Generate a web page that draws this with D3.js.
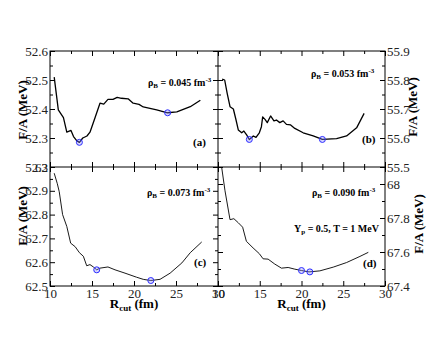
<!DOCTYPE html>
<html lang="en">
<head>
  <meta charset="UTF-8">
  <title>F/A vs Rcut</title>
  <script src="https://d3js.org/d3.v7.min.js"></script>
  <style>
    body { margin: 0; background: #fff; }
    text { font-family: "Liberation Serif", "DejaVu Serif", serif; }
  </style>
</head>
<body>
  <script>
    var svgWidth = 436;
    var svgHeight = 337;

    // panel (a) rho_B = 0.045
    var rcutA = [10.5, 10.99, 11.6, 12.0, 12.5, 12.8, 13.2, 13.5, 13.9, 14.4, 14.76, 15.36, 15.95, 16.4, 16.9, 17.5, 18.0, 18.5, 19.3, 19.9, 20.6, 21.1, 22.7, 24.0, 25.1, 26.7, 27.9];
    var faA   = [52.51, 52.397, 52.37, 52.32, 52.326, 52.305, 52.29, 52.285, 52.30, 52.307, 52.32, 52.37, 52.42, 52.417, 52.433, 52.433, 52.44, 52.437, 52.435, 52.42, 52.416, 52.407, 52.397, 52.387, 52.39, 52.408, 52.43];
    var minRA = [13.5, 24.0];
    var minFA = [52.285, 52.387];

    // panel (b) rho_B = 0.053
    var rcutB = [10.5, 10.8, 11.1, 11.44, 11.84, 12.16, 12.43, 12.84, 13.1, 13.45, 13.75, 14.23, 14.55, 14.95, 15.2, 15.35, 15.63, 15.9, 16.3, 16.7, 17.0, 17.4, 17.8, 18.2, 18.7, 19.2, 20.2, 21.4, 22.5, 24.2, 25.4, 26.6, 27.5];
    var faB   = [55.803, 55.8, 55.754, 55.708, 55.70, 55.662, 55.628, 55.618, 55.624, 55.61, 55.595, 55.607, 55.602, 55.618, 55.639, 55.673, 55.664, 55.653, 55.676, 55.659, 55.662, 55.653, 55.659, 55.647, 55.645, 55.633, 55.618, 55.607, 55.595, 55.598, 55.607, 55.635, 55.685];
    var minRB = [13.75, 22.5];
    var minFB = [55.595, 55.595];

    // panel (c) rho_B = 0.073
    var rcutC = [10.5, 10.87, 11.1, 11.5, 12.0, 12.46, 13.0, 13.5, 13.97, 14.37, 14.76, 15.16, 15.56, 15.95, 16.9, 17.74, 18.93, 20.3, 21.1, 22.0, 23.1, 24.3, 25.7, 26.7, 28.06];
    var faC   = [62.974, 62.93, 62.896, 62.80, 62.75, 62.68, 62.665, 62.64, 62.625, 62.585, 62.59, 62.58, 62.568, 62.575, 62.58, 62.568, 62.554, 62.537, 62.528, 62.523, 62.528, 62.554, 62.597, 62.64, 62.685];
    var minRC = [15.56, 22.0];
    var minFC = [62.568, 62.523];

    // panel (d) rho_B = 0.090
    var rcutD = [10.44, 10.84, 11.44, 11.9, 12.43, 12.95, 13.4, 14.2, 14.95, 15.4, 16.0, 16.8, 17.6, 18.4, 19.2, 20.0, 20.9, 22.2, 23.8, 25.4, 27.0, 28.0];
    var faD   = [68.098, 67.96, 67.79, 67.796, 67.772, 67.746, 67.663, 67.624, 67.59, 67.56, 67.558, 67.529, 67.505, 67.509, 67.499, 67.491, 67.483, 67.489, 67.511, 67.538, 67.574, 67.598];
    var minRD = [20.0, 21.0];
    var minFD = [67.491, 67.483];

    // ticks
    var xMajor = [10, 15, 20, 25, 30];
    var xMinor = [12.5, 17.5, 22.5, 27.5];
    var yLabelsA = [52.2, 52.3, 52.4, 52.5, 52.6];
    var yLabelsB = [55.5, 55.6, 55.7, 55.8, 55.9];
    var yLabelsC = [62.5, 62.6, 62.7, 62.8, 62.9, 63];
    var yLabelsD = [67.4, 67.6, 67.8, 68];
    var yMinorA = [52.25, 52.35, 52.45, 52.55];
    var yMinorB = [55.55, 55.65, 55.75, 55.85];
    var yMinorC = [62.55, 62.65, 62.75, 62.85, 62.95];
    var yMinorD = [67.5, 67.7, 67.9, 68.1];

    var svg = d3.select("body")
                .append("svg")
                .attr("width", svgWidth)
                .attr("height", svgHeight);

    var xLeft = 50, xMid = 218, xRight = 385;
    var yTop = 51, yMid = 167, yBottom = 286;

    var panels = [
      { r: rcutA, f: faA, mr: minRA, mf: minFA, x0: xLeft, x1: xMid, y0: yTop, y1: yMid,
        yDom: [52.2, 52.6], yLab: yLabelsA, yMin: yMinorA, side: "left", xLab: false, lw: 1.3,
        rho: "0.045", rx: 148, ry: 86, tag: "(a)", tx: 193, ty: 146, titleY: 110, titleX: 27 },
      { r: rcutB, f: faB, mr: minRB, mf: minFB, x0: xMid, x1: xRight, y0: yTop, y1: yMid,
        yDom: [55.5, 55.9], yLab: yLabelsB, yMin: yMinorB, side: "right", xLab: false, lw: 1.3,
        rho: "0.053", rx: 311, ry: 77, tag: "(b)", tx: 362, ty: 143, titleY: 107, titleX: 417 },
      { r: rcutC, f: faC, mr: minRC, mf: minFC, x0: xLeft, x1: xMid, y0: yMid, y1: yBottom,
        yDom: [62.5, 63.0], yLab: yLabelsC, yMin: yMinorC, side: "left", xLab: true, lw: 0.9,
        rho: "0.073", rx: 147, ry: 196, tag: "(c)", tx: 194, ty: 266, titleY: 216, titleX: 27 },
      { r: rcutD, f: faD, mr: minRD, mf: minFD, x0: xMid, x1: xRight, y0: yMid, y1: yBottom,
        yDom: [67.4, 68.1], yLab: yLabelsD, yMin: yMinorD, side: "right", xLab: true, lw: 0.9,
        rho: "0.090", rx: 312, ry: 196, tag: "(d)", tx: 363, ty: 267, titleY: 224, titleX: 423 }
    ];

    function styleAxis(g, size) {
      g.select(".domain").remove();
      g.selectAll("line").attr("stroke", "#000");
      g.selectAll("text").attr("font-size", size).attr("fill", "#222")
       .style("font-family", "'Liberation Serif', serif");
    }

    panels.forEach(function(p) {
      var x = d3.scaleLinear().domain([10, 30]).range([p.x0, p.x1]);
      var y = d3.scaleLinear().domain(p.yDom).range([p.y1, p.y0]);

      // x ticks, bottom and top, pointing inward
      svg.append("g").attr("transform", "translate(0," + p.y1 + ")")
         .call(d3.axisBottom(x).tickValues(xMajor).tickSize(-5).tickPadding(3)
               .tickFormat(p.xLab ? d3.format("d") : ""))
         .call(styleAxis, 13);
      svg.append("g").attr("transform", "translate(0," + p.y1 + ")")
         .call(d3.axisBottom(x).tickValues(xMinor).tickSize(-3).tickFormat(""))
         .call(styleAxis, 13);
      svg.append("g").attr("transform", "translate(0," + p.y0 + ")")
         .call(d3.axisTop(x).tickValues(xMajor).tickSize(-5).tickFormat(""))
         .call(styleAxis, 13);
      svg.append("g").attr("transform", "translate(0," + p.y0 + ")")
         .call(d3.axisTop(x).tickValues(xMinor).tickSize(-3).tickFormat(""))
         .call(styleAxis, 13);

      // y ticks both sides, labels on the outer side
      var outer = p.side === "left" ? d3.axisLeft : d3.axisRight;
      var inner = p.side === "left" ? d3.axisRight : d3.axisLeft;
      var xo = p.side === "left" ? p.x0 : p.x1;
      var xi = p.side === "left" ? p.x1 : p.x0;
      svg.append("g").attr("transform", "translate(" + xo + ",0)")
         .call(outer(y).tickValues(p.yLab).tickSize(-5).tickPadding(2).tickFormat(d3.format("~g")))
         .call(styleAxis, 13);
      svg.append("g").attr("transform", "translate(" + xo + ",0)")
         .call(outer(y).tickValues(p.yMin).tickSize(-3).tickFormat(""))
         .call(styleAxis, 13);
      svg.append("g").attr("transform", "translate(" + xi + ",0)")
         .call(inner(y).tickValues(p.yLab).tickSize(-5).tickFormat(""))
         .call(styleAxis, 13);
      svg.append("g").attr("transform", "translate(" + xi + ",0)")
         .call(inner(y).tickValues(p.yMin).tickSize(-3).tickFormat(""))
         .call(styleAxis, 13);

      // curve
      var line = d3.line().x(function(d, i) { return x(p.r[i]); })
                          .y(function(d) { return y(d); });
      svg.append("path").datum(p.f)
         .attr("d", line)
         .attr("fill", "none")
         .attr("stroke", "#000")
         .attr("stroke-width", p.lw)
         .attr("stroke-linejoin", "round");

      // minima markers
      svg.selectAll(null).data(p.mr).enter().append("circle")
         .attr("cx", function(d) { return x(d); })
         .attr("cy", function(d, i) { return y(p.mf[i]); })
         .attr("r", 3)
         .attr("fill", "rgba(140,140,255,0.35)")
         .attr("stroke", "#2b2bff")
         .attr("stroke-width", 1);

      // rho_B annotation
      var t = svg.append("text").attr("x", p.rx).attr("y", p.ry)
                 .attr("font-size", 10).attr("font-weight", "bold");
      t.append("tspan").text("\u03c1");
      t.append("tspan").attr("font-size", 7).attr("dy", 2).text("B");
      t.append("tspan").attr("dy", -2).text(" = " + p.rho + " fm");
      t.append("tspan").attr("font-size", 7).attr("dy", -4).text("-3");

      svg.append("text").attr("x", p.tx).attr("y", p.ty)
         .attr("font-size", 11).attr("font-weight", "bold").text(p.tag);

      // y title
      svg.append("text")
         .attr("transform", "translate(" + p.titleX + "," + p.titleY + ") rotate(-90)")
         .attr("text-anchor", "middle")
         .attr("font-size", 13).attr("font-weight", "bold")
         .text("F/A (MeV)");

      // x title
      if (p.xLab) {
        var xt = svg.append("text").attr("x", (p.x0 + p.x1) / 2).attr("y", 308)
                    .attr("text-anchor", "middle")
                    .attr("font-size", 13).attr("font-weight", "bold");
        xt.append("tspan").text("R");
        xt.append("tspan").attr("font-size", 9).attr("dy", 3).text("cut");
        xt.append("tspan").attr("dy", -3).text(" (fm)");
      }
    });

    // Y_p annotation in panel (d)
    var yp = svg.append("text").attr("x", 294).attr("y", 232)
                .attr("font-size", 10).attr("font-weight", "bold");
    yp.append("tspan").text("Y");
    yp.append("tspan").attr("font-size", 7).attr("dy", 2).text("p");
    yp.append("tspan").attr("dy", -2).text(" = 0.5, T = 1 MeV");

    // frame
    svg.append("rect").attr("x", xLeft).attr("y", yTop)
       .attr("width", xRight - xLeft).attr("height", yBottom - yTop)
       .attr("fill", "none").attr("stroke", "#000").attr("stroke-width", 1);
    svg.append("line").attr("x1", xMid).attr("x2", xMid).attr("y1", yTop).attr("y2", yBottom)
       .attr("stroke", "#000").attr("stroke-width", 1);
    svg.append("line").attr("x1", xLeft).attr("x2", xRight).attr("y1", yMid).attr("y2", yMid)
       .attr("stroke", "#000").attr("stroke-width", 1);
  </script>
</body>
</html>
